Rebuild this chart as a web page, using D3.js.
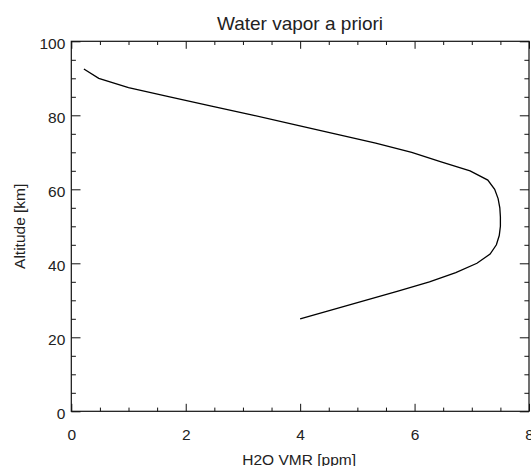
<!DOCTYPE html>
<html><head><meta charset="utf-8">
<script src="https://cdn.jsdelivr.net/npm/d3@7/dist/d3.min.js"></script>
<style>
html,body{margin:0;padding:0;background:#fff;}
svg{display:block;}
text{font-family:"Liberation Sans",Arial,Helvetica,sans-serif;fill:#222;}
</style></head>
<body>
<script>
const title = "Water vapor a priori";
const xTitle = "H2O VMR [ppm]";
const yTitle = "Altitude [km]";
const altitude = [25, 27.5, 30, 32.5, 35, 37.5, 40, 42.5, 45, 47.5, 50, 52.5, 55, 57.5, 60, 62.5, 65, 67.5, 70, 72.5, 75, 77.5, 80, 82.5, 85, 87.5, 90, 92.5];
const vmr = [4.0, 4.57, 5.14, 5.71, 6.26, 6.72, 7.09, 7.32, 7.43, 7.48, 7.50, 7.50, 7.49, 7.46, 7.40, 7.28, 6.97, 6.45, 5.95, 5.32, 4.61, 3.90, 3.19, 2.45, 1.72, 1.00, 0.48, 0.22];
const xMajor = [0, 2, 4, 6, 8];
const xMinor = [0.5, 1, 1.5, 2.5, 3, 3.5, 4.5, 5, 5.5, 6.5, 7, 7.5];
const yMajor = [0, 20, 40, 60, 80, 100];
const yMinor = [5, 10, 15, 25, 30, 35, 45, 50, 55, 65, 70, 75, 85, 90, 95];

const W = 531, H = 466;
const L = 71.3, R = 529, T = 41.3, B = 411.3;
const svg = d3.select("body").append("svg").attr("width", W).attr("height", H);
const x = d3.scaleLinear().domain([0, 8]).range([L, R]);
const y = d3.scaleLinear().domain([0, 100]).range([B, T]);
const fs = 15.5;

function styleAxis(g){
  g.select(".domain").remove();
  g.selectAll("line").attr("stroke", "#111").attr("stroke-width", 1);
  g.selectAll("text").style("font-size", fs + "px").attr("fill", "#222");
}
// bottom
svg.append("g").attr("transform", `translate(0,${B})`)
  .call(d3.axisBottom(x).tickValues(xMajor).tickSize(-7.5).tickPadding(17.5).tickFormat(d3.format("d")))
  .call(styleAxis);
svg.append("g").attr("transform", `translate(0,${B})`)
  .call(d3.axisBottom(x).tickValues(xMinor).tickSize(-3.7).tickFormat(""))
  .call(styleAxis);
// top
svg.append("g").attr("transform", `translate(0,${T})`)
  .call(d3.axisTop(x).tickValues(xMajor).tickSize(-7.5).tickFormat(""))
  .call(styleAxis);
svg.append("g").attr("transform", `translate(0,${T})`)
  .call(d3.axisTop(x).tickValues(xMinor).tickSize(-3.7).tickFormat(""))
  .call(styleAxis);
// left
const gl = svg.append("g").attr("transform", `translate(${L},0)`)
  .call(d3.axisLeft(y).tickValues(yMajor).tickSize(-9.2).tickPadding(6).tickFormat(d3.format("d")))
  .call(styleAxis);
gl.selectAll("text").attr("dy", "0.48em");
svg.append("g").attr("transform", `translate(${L},0)`)
  .call(d3.axisLeft(y).tickValues(yMinor).tickSize(-4.6).tickFormat(""))
  .call(styleAxis);
// right
svg.append("g").attr("transform", `translate(${R},0)`)
  .call(d3.axisRight(y).tickValues(yMajor).tickSize(-9.2).tickFormat(""))
  .call(styleAxis);
svg.append("g").attr("transform", `translate(${R},0)`)
  .call(d3.axisRight(y).tickValues(yMinor).tickSize(-4.6).tickFormat(""))
  .call(styleAxis);
// frame
svg.append("rect").attr("x", L).attr("y", T).attr("width", R - L).attr("height", B - T)
  .attr("fill", "none").attr("stroke", "#111").attr("stroke-width", 1.2);

// curve
const data = altitude.map((a, i) => ({a, v: vmr[i]}));
svg.append("path").datum(data)
  .attr("fill", "none").attr("stroke", "#000").attr("stroke-width", 1.3)
  .attr("d", d3.line().x(d => x(d.v)).y(d => y(d.a)));

// titles
svg.append("text").attr("x", 300).attr("y", 29.5).attr("text-anchor", "middle")
  .style("font-size", "19px").text(title);
svg.append("text").attr("x", (L + R) / 2 - 1).attr("y", 465).attr("text-anchor", "middle")
  .style("font-size", fs + "px").text(xTitle);
svg.append("text").attr("transform", `translate(25,${(T + B) / 2}) rotate(-90)`)
  .attr("text-anchor", "middle").style("font-size", fs + "px").text(yTitle);
</script>
</body></html>
